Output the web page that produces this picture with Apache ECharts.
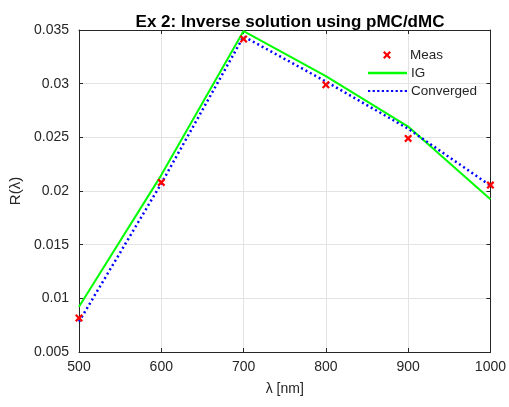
<!DOCTYPE html>
<html><head><meta charset="utf-8">
<script src="https://cdn.jsdelivr.net/npm/echarts@6/dist/echarts.min.js"></script>
<style>html,body{margin:0;padding:0;background:#fff}#c{width:509px;height:407px}</style>
</head><body><div id="c"></div>
<script>
var wavelengths = [500, 600, 700, 800, 900, 1000];
var meas = [0.00817, 0.0208, 0.03416, 0.0299, 0.0249, 0.02055];
var ig = [0.00922, 0.02148, 0.0349, 0.0307, 0.0260, 0.01922];
var converged = [0.00782, 0.0207, 0.0344, 0.0302, 0.0258, 0.0205];
var yTicks = ['0.005', '0.01', '0.015', '0.02', '0.025', '0.03', '0.035'];

function pairs(v) { return wavelengths.map(function (x, i) { return [x, v[i]]; }); }
var cross = 'path://M0,2 L2,0 L5,3 L8,0 L10,2 L7,5 L10,8 L8,10 L5,7 L2,10 L0,8 L3,5 Z';
var dots = 'path://' + [0, 1, 2, 3, 4, 5, 6, 7, 8].map(function (i) {
  var x = i * 4.5; return 'M' + x + ',0 h2.2 v2.2 h-2.2 Z';
}).join(' ');
var font = 'Liberation Sans, Arial, Helvetica, sans-serif';
var axCol = '#262626';

function leg(name, icon, left, top, w, h, pad) {
  return {
    data: [{ name: name, icon: icon }], left: left, top: top, padding: 0,
    itemWidth: w, itemHeight: h, orient: 'vertical', selectedMode: false,
    textStyle: { fontSize: 13.5, color: axCol, fontFamily: font, padding: [0, 0, 0, pad] }
  };
}

var chart = echarts.init(document.getElementById('c'));
chart.setOption({
  animation: false,
  textStyle: { fontFamily: font },
  title: {
    text: 'Ex 2: Inverse solution using pMC/dMC',
    left: 285, textAlign: 'center', top: 9,
    textStyle: { fontSize: 17, fontWeight: 'bold', color: '#000', fontFamily: font }
  },
  grid: { left: 79, right: 17, top: 30, bottom: 55, containLabel: false },
  legend: [
    leg('Meas', cross, 383, 48, 8, 8, 14),
    leg('IG', 'rect', 368, 66, 39, 2.5, -1),
    leg('Converged', dots, 368, 84, 39, 2.5, -1)
  ],
  xAxis: [{
    type: 'value', min: 500, max: 1000, interval: 100,
    name: 'λ [nm]', nameLocation: 'middle', nameGap: 30,
    nameTextStyle: { fontSize: 14, color: axCol, fontFamily: font },
    axisLine: { show: true, lineStyle: { color: axCol, width: 1 } },
    axisTick: { show: true, inside: true, length: 4, lineStyle: { color: axCol } },
    axisLabel: { fontSize: 14, color: axCol, margin: 8, fontFamily: font,
      formatter: function (v) { return String(v); } },
    splitLine: { show: true, lineStyle: { color: '#e3e3e3', width: 1 } }
  }, {
    type: 'value', min: 500, max: 1000, interval: 100, position: 'top',
    axisLine: { show: true, onZero: false, lineStyle: { color: axCol, width: 1 } },
    axisTick: { show: true, inside: true, length: 4, lineStyle: { color: axCol } },
    axisLabel: { show: false }, splitLine: { show: false }
  }],
  yAxis: [{
    type: 'value', min: 0.005, max: 0.035, interval: 0.005,
    name: 'R(λ)', nameLocation: 'middle', nameGap: 54, nameRotate: 90,
    nameTextStyle: { fontSize: 15, color: axCol, fontFamily: font },
    axisLine: { show: true, lineStyle: { color: axCol, width: 1 } },
    axisTick: { show: true, inside: true, length: 4, lineStyle: { color: axCol } },
    axisLabel: {
      fontSize: 14, color: axCol, margin: 10, fontFamily: font,
      formatter: function (v) { return yTicks[Math.round((v - 0.005) / 0.005)]; }
    },
    splitLine: { show: true, lineStyle: { color: '#e3e3e3', width: 1 } }
  }, {
    type: 'value', min: 0.005, max: 0.035, interval: 0.005, position: 'right',
    axisLine: { show: true, onZero: false, lineStyle: { color: axCol, width: 1 } },
    axisTick: { show: true, inside: true, length: 4, lineStyle: { color: axCol } },
    axisLabel: { show: false }, splitLine: { show: false }
  }],
  series: [
    {
      name: 'IG', type: 'line', data: pairs(ig), symbol: 'none',
      lineStyle: { color: '#00ff00', width: 2 }, itemStyle: { color: '#00ff00' }, z: 2
    },
    {
      name: 'Converged', type: 'line', data: pairs(converged), symbol: 'none',
      lineStyle: { color: '#0000ff', width: 2.5, type: [2, 3] }, itemStyle: { color: '#0000ff' }, z: 3
    },
    {
      name: 'Meas', type: 'scatter', data: pairs(meas), symbol: cross, symbolSize: 8,
      itemStyle: { color: '#ff0000', opacity: 1 }, z: 4
    }
  ]
});
</script></body></html>
